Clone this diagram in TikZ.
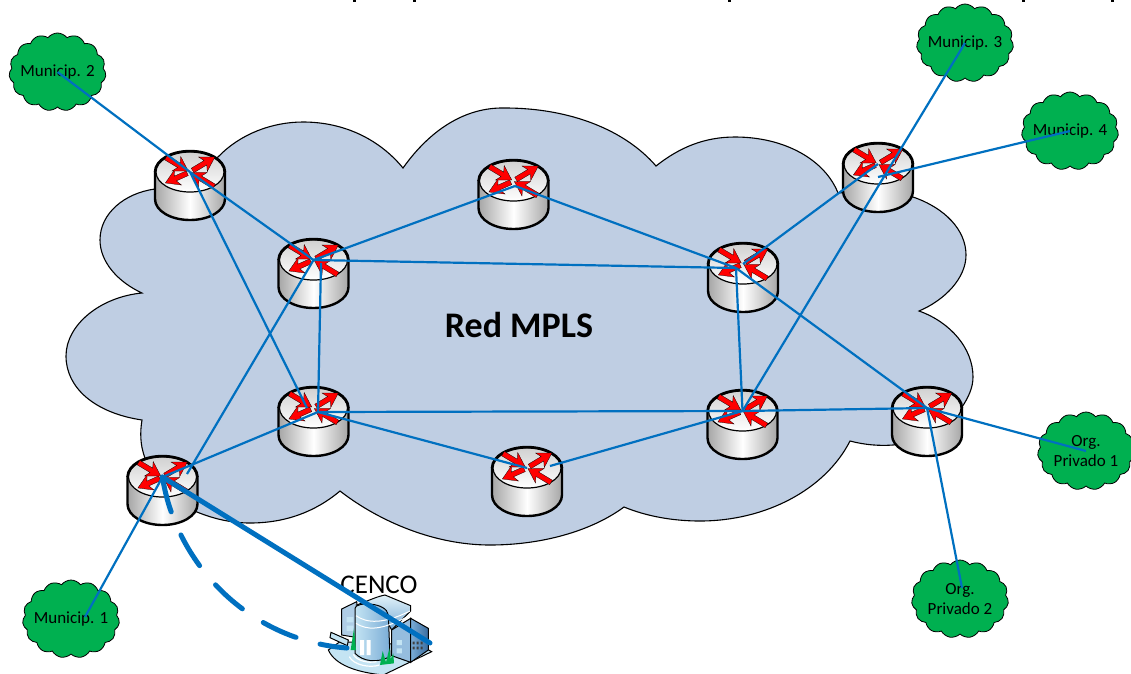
\documentclass[tikz,border=0pt]{standalone}
\usepackage{fontspec}
\setmainfont{Carlito}
\usetikzlibrary{shapes.symbols}
\definecolor{netcloud}{RGB}{191,206,227}
\definecolor{sitegreen}{RGB}{0,176,80}
\definecolor{linkblue}{RGB}{0,112,192}
\definecolor{bldlight}{RGB}{196,228,243}
\definecolor{bldmid}{RGB}{122,172,214}
\definecolor{blddark}{RGB}{58,108,158}
\tikzset{router/.pic={
    \draw[line width=2.4pt,left color=black!35,right color=black!35,middle color=white]
        (-35,0) -- (-35,27) .. controls (-35,39) and (-19,48) .. (0,48)
        .. controls (19,48) and (35,39) .. (35,27) -- (35,0) -- cycle;
    \draw[line width=1.2pt,top color=black!18,bottom color=white] (0,0) ellipse [x radius=34,y radius=20];
    \draw[line width=2.4pt] (-35,0) .. controls (-35,-12) and (-19,-21) .. (0,-21)
        .. controls (19,-21) and (35,-12) .. (35,0);
    \foreach \ang/\a/\b in {31/3/29,204/3/27,-31/-28/-2,149/-28/-1}
        \draw[rarrow,rotate=\ang] (\a,-2.6) -- (\b-11,-2.6) -- (\b-14,-8.5) -- (\b,0)
            -- (\b-14,8.5) -- (\b-11,2.6) -- (\a,2.6) -- cycle;
}}
\begin{document}
\begin{tikzpicture}[x=1pt,y=-1pt]
    \tikzstyle{rarrow}=[draw=black,line width=.25pt,fill=red]
    \tikzstyle{link}=[draw=linkblue,line width=2.2pt]
    \tikzstyle{uplink}=[draw=linkblue,line width=5pt,line cap=round]
    \tikzstyle{site}=[draw=black,line width=.8pt,fill=sitegreen,cloud,cloud puffs=15,cloud puff arc=105,aspect=1.25,minimum width=97pt,minimum height=78pt,inner sep=0pt]
    \tikzstyle{sitetext}=[font=\fontsize{17}{20}\selectfont,align=center,inner sep=0pt]
    \tikzstyle{part}=[draw=black,line width=1pt]
    \useasboundingbox (0,0) rectangle (1131,673);
    % big cloud
    \draw[fill=netcloud,line width=1.1pt] (155,189) -- (190,170) -- (218,157)
        .. controls (240,134) and (272,122) .. (303,122) .. controls (345,122) and (380,140) .. (403,168)
        .. controls (430,130) and (465,107) .. (505,108) .. controls (570,108) and (625,130) .. (656,166)
        .. controls (680,147) and (705,137) .. (735,137) .. controls (785,137) and (825,160) .. (838,193)
        -- (878,190) -- (913,197)
        .. controls (945,208) and (966,230) .. (966,255) .. controls (966,278) and (945,300) .. (919,311)
        .. controls (950,322) and (973,348) .. (973,377) .. controls (973,388) and (968,398) .. (962,407)
        -- (930,440) -- (893,445) .. controls (880,446) and (865,445) .. (850,441)
        .. controls (825,490) and (765,521) .. (700,521) .. controls (672,521) and (646,516) .. (624,507)
        .. controls (590,532) and (540,545) .. (490,545) .. controls (435,545) and (380,522) .. (340,491)
        .. controls (315,512) and (285,523) .. (250,523) .. controls (232,523) and (214,519) .. (197,512)
        -- (160,500) -- (145,458) .. controls (140,445) and (140,432) .. (142,420)
        .. controls (95,413) and (66,388) .. (66,356) .. controls (66,325) and (100,297) .. (142,293)
        .. controls (118,282) and (100,262) .. (100,240) .. controls (100,213) and (125,193) .. (155,189)
        -- cycle;
    \node[font=\fontsize{36}{42}\selectfont\bfseries] (redmpls) at (519,325) {Red MPLS};
    % routers
    \foreach \name/\x/\y in {ra/190/172,rb/313.5/260,rc/513.5/181,rd/743/264,re/878/164,
        rf/313.5/408,rg/527/468,rh/742.5/411,ri/927/408,rj/162.5/477}{
        \coordinate (\name) at (\x,\y);
        \pic at (\name) {router};
    }
    % sites
    \node[site,label={[sitetext]center:Municip. 2}] (muna) at (57.5,72) {};
    \node[site,label={[sitetext]center:Municip. 3}] (munb) at (965,43) {};
    \node[site,label={[sitetext]center:Municip. 4}] (munc) at (1070,131) {};
    \node[site,label={[sitetext]center:Municip. 1}] (mund) at (71,619) {};
    \node[site,label={[sitetext]center:Org.\\Privado 1}] (orga) at (1086,451) {};
    \node[site,label={[sitetext]center:Org.\\Privado 2}] (orgb) at (960,599) {};
    % cenco
    \begin{scope}[shift={(320,585)},x=.3333pt,y=-.3333pt]
        \draw[part,fill=bldlight] (25,195) .. controls (45,240) and (110,262) .. (190,270) -- (335,200) -- (300,180) -- (60,170) -- cycle;
        \draw[part,fill=bldmid!60] (65,72) -- (110,50) -- (125,160) -- (65,150) -- cycle;
        \fill[bldlight] (80,96) rectangle (100,112) (80,122) rectangle (100,138);
        \draw[part,top color=bldlight!50,bottom color=bldmid] (110,60) .. controls (150,45) and (170,35) .. (195,30) -- (272,62) -- (272,78) -- (215,135) -- (190,90) -- cycle;
        \draw[part,fill=bldmid!80] (215,135) -- (272,100) -- (272,232) -- (215,212) -- cycle;
        \draw[part,left color=bldmid,right color=blddark] (272,100) -- (325,130) -- (325,195) -- (272,232) -- cycle;
        \fill[black!75] (278,170) rectangle (284,178) (290,170) rectangle (296,178) (302,170) rectangle (308,178)
            (278,185) rectangle (284,193) (290,185) rectangle (296,193) (302,185) rectangle (308,193);
        \fill[bldlight] (230,165) rectangle (246,180) (230,190) rectangle (246,205);
        \draw[part,left color=bldlight,right color=bldmid] (105,70) .. controls (105,50) and (200,50) .. (205,90) -- (210,215) .. controls (170,235) and (130,230) .. (105,205) -- cycle;
        \draw[white,line width=1pt] (108,92) .. controls (140,115) and (190,118) .. (270,78)
            (108,115) .. controls (140,135) and (180,140) .. (272,90);
        \fill[white] (120,165) rectangle (132,210) (140,165) rectangle (152,210);
        \draw[part,fill=bldlight] (33,142) -- (85,165) -- (82,182) -- (30,158) -- cycle;
        \draw[white,line width=1.2pt] (88,215) .. controls (100,240) and (150,250) .. (178,240)
            (100,208) .. controls (110,228) and (145,235) .. (170,230);
        \fill[sitegreen] (92,195) -- (102,130) -- (108,195) -- cycle
            (180,240) -- (188,198) -- (198,232) -- (208,190) -- (212,222) -- (220,205) -- (222,235) -- cycle;
    \end{scope}
    \node[font=\fontsize{27}{32}\selectfont,inner sep=0pt] (cencotxt) at (379,585) {CENCO};
    \coordinate (cencoa) at (430,643);
    \coordinate (cencob) at (347,648);
    % link ends that stop short of the router centre
    \coordinate (rjtop) at (187,474);
    \coordinate (retop) at (888,170);
    \coordinate (relow) at (878,177);
    \coordinate (rdlow) at (736,268);
    \coordinate (rbr) at (321,263);
    \coordinate (rfr) at (318,412);
    \coordinate (rfl) at (307,408);
    \coordinate (rcl) at (515,186);
    \coordinate (rgr) at (550,466);
    \coordinate (mundend) at (85,617);
    \coordinate (orgbend) at (962,588);
    % links
    \draw[link] (ra) -- (muna.center);
    \draw[link] (ra) -- (rb);
    \draw[link] (ra) -- (rfl);
    \draw[link] (rb) -- (rcl);
    \draw[link] (rb) -- (rdlow);
    \draw[link] (rbr) -- (rfr);
    \draw[link] (rb) -- (rjtop);
    \draw[link] (rcl) -- (rdlow);
    \draw[link] (rd) -- (re);
    \draw[link] (rdlow) -- (rh);
    \draw[link] (rdlow) -- (ri);
    \draw[link] (retop) -- (munb.center);
    \draw[link] (relow) -- (munc.center);
    \draw[link] (retop) -- (rh);
    \draw[link] (rfr) -- (rh);
    \draw[link] (rfr) -- (rg);
    \draw[link] (rfr) -- (rj);
    \draw[link] (rgr) -- (rh);
    \draw[link] (rh) -- (ri);
    \draw[link] (ri) -- (orga.center);
    \draw[link] (ri) -- (orgbend);
    \draw[link] (rj) -- (mundend);
    \draw[uplink] (rj) -- (cencoa);
    \draw[uplink,dash pattern=on 36pt off 25pt] (rj) .. controls (175,560) and (245,640) .. (cencob);
    % cut-off line of text along the top edge
    \foreach \x in {354,414,729,1023,1112}
        \fill[black] (\x-1.5,0) rectangle (\x+1.5,1.5);
\end{tikzpicture}
\end{document}
